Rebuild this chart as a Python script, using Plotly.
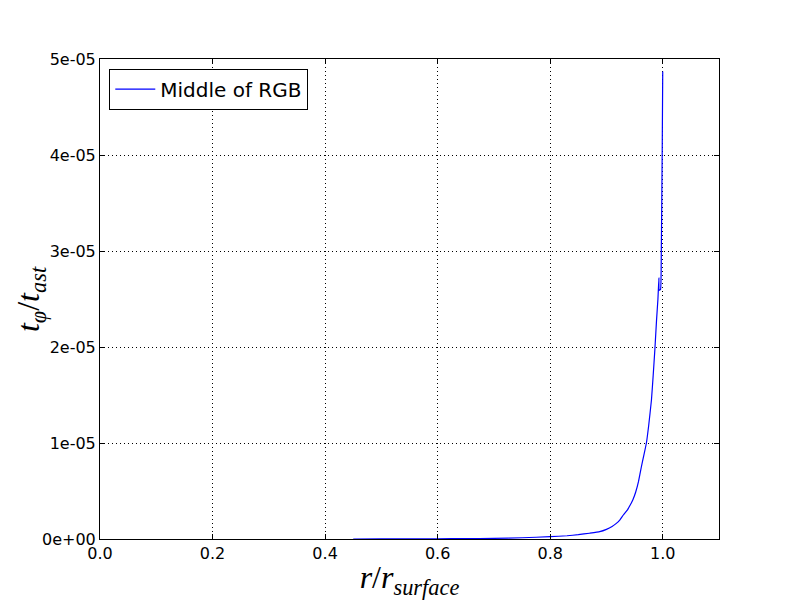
import plotly.graph_objects as go

r_ratio = [0.45, 0.5, 0.55, 0.6, 0.65, 0.7, 0.75, 0.8, 0.83, 0.85, 0.87, 0.888, 0.90,
           0.91, 0.917, 0.924, 0.93, 0.937, 0.94, 0.947, 0.952, 0.957, 0.962, 0.966,
           0.971, 0.975, 0.980, 0.983, 0.986, 0.989, 0.9915, 0.9932, 0.9935,
           0.9962, 0.9975, 0.9991, 1.0]
t_ratio_e6 = [0.0, 0.005, 0.01, 0.02, 0.04, 0.07, 0.13, 0.24, 0.34, 0.45, 0.6, 0.76, 1.0,
              1.3, 1.6, 2.0, 2.5, 3.0, 3.3, 4.1, 4.9, 6.0, 7.5, 8.6,
              10.0, 11.8, 14.5, 17.0, 19.7, 22.8, 25.0, 27.2, 25.9,
              26.0, 30.1, 40.5, 48.7]
t_ratio = [v * 1e-6 for v in t_ratio_e6]

x_ticks = [0.0, 0.2, 0.4, 0.6, 0.8, 1.0]
x_ticktext = ["0.0", "0.2", "0.4", "0.6", "0.8", "1.0"]
y_ticks = [0, 1e-05, 2e-05, 3e-05, 4e-05, 5e-05]
y_ticktext = ["0e+00", "1e-05", "2e-05", "3e-05", "4e-05", "5e-05"]

fig = go.Figure()
fig.add_trace(go.Scatter(x=r_ratio, y=t_ratio, mode="lines",
                         line=dict(color="#0000ff", width=1.2, shape="spline", smoothing=0.3),
                         name="Middle of RGB"))

axis_common = dict(showline=True, linecolor="black", linewidth=1, mirror="ticks",
                   ticks="inside", ticklen=5, tickcolor="black",
                   showgrid=True, gridcolor="black", griddash="1px,3px", gridwidth=1,
                   zeroline=False, automargin=False,
                   tickfont=dict(family="DejaVu Sans", size=16, color="black"))

fig.update_xaxes(range=[0, 1.1], tickvals=x_ticks, ticktext=x_ticktext,
                 title=dict(text="<i>r</i>/<i>r</i><sub><i>surface</i></sub>",
                            font=dict(family="Liberation Serif", size=32, color="black"),
                            standoff=2),
                 **axis_common)
fig.update_yaxes(range=[0, 5e-05], tickvals=y_ticks, ticktext=y_ticktext,
                 **axis_common)

fig.add_annotation(text="<i>t</i><sub><i>φ</i></sub>/<i>t</i><sub><i>ast</i></sub>",
                   xref="paper", yref="paper", x=-0.113, y=0.5,
                   xanchor="center", yanchor="middle", textangle=-90, showarrow=False,
                   font=dict(family="Liberation Serif", size=32, color="black"))

fig.update_layout(
    width=792, height=592,
    margin=dict(l=92, r=81, t=51, b=61),
    paper_bgcolor="white", plot_bgcolor="white",
    showlegend=True,
    legend=dict(x=0.015, y=0.98, xanchor="left", yanchor="top",
                bordercolor="black", borderwidth=1, bgcolor="white",
                font=dict(family="DejaVu Sans", size=20, color="black"),
                itemwidth=40),
)

fig.write_html("out.html")
